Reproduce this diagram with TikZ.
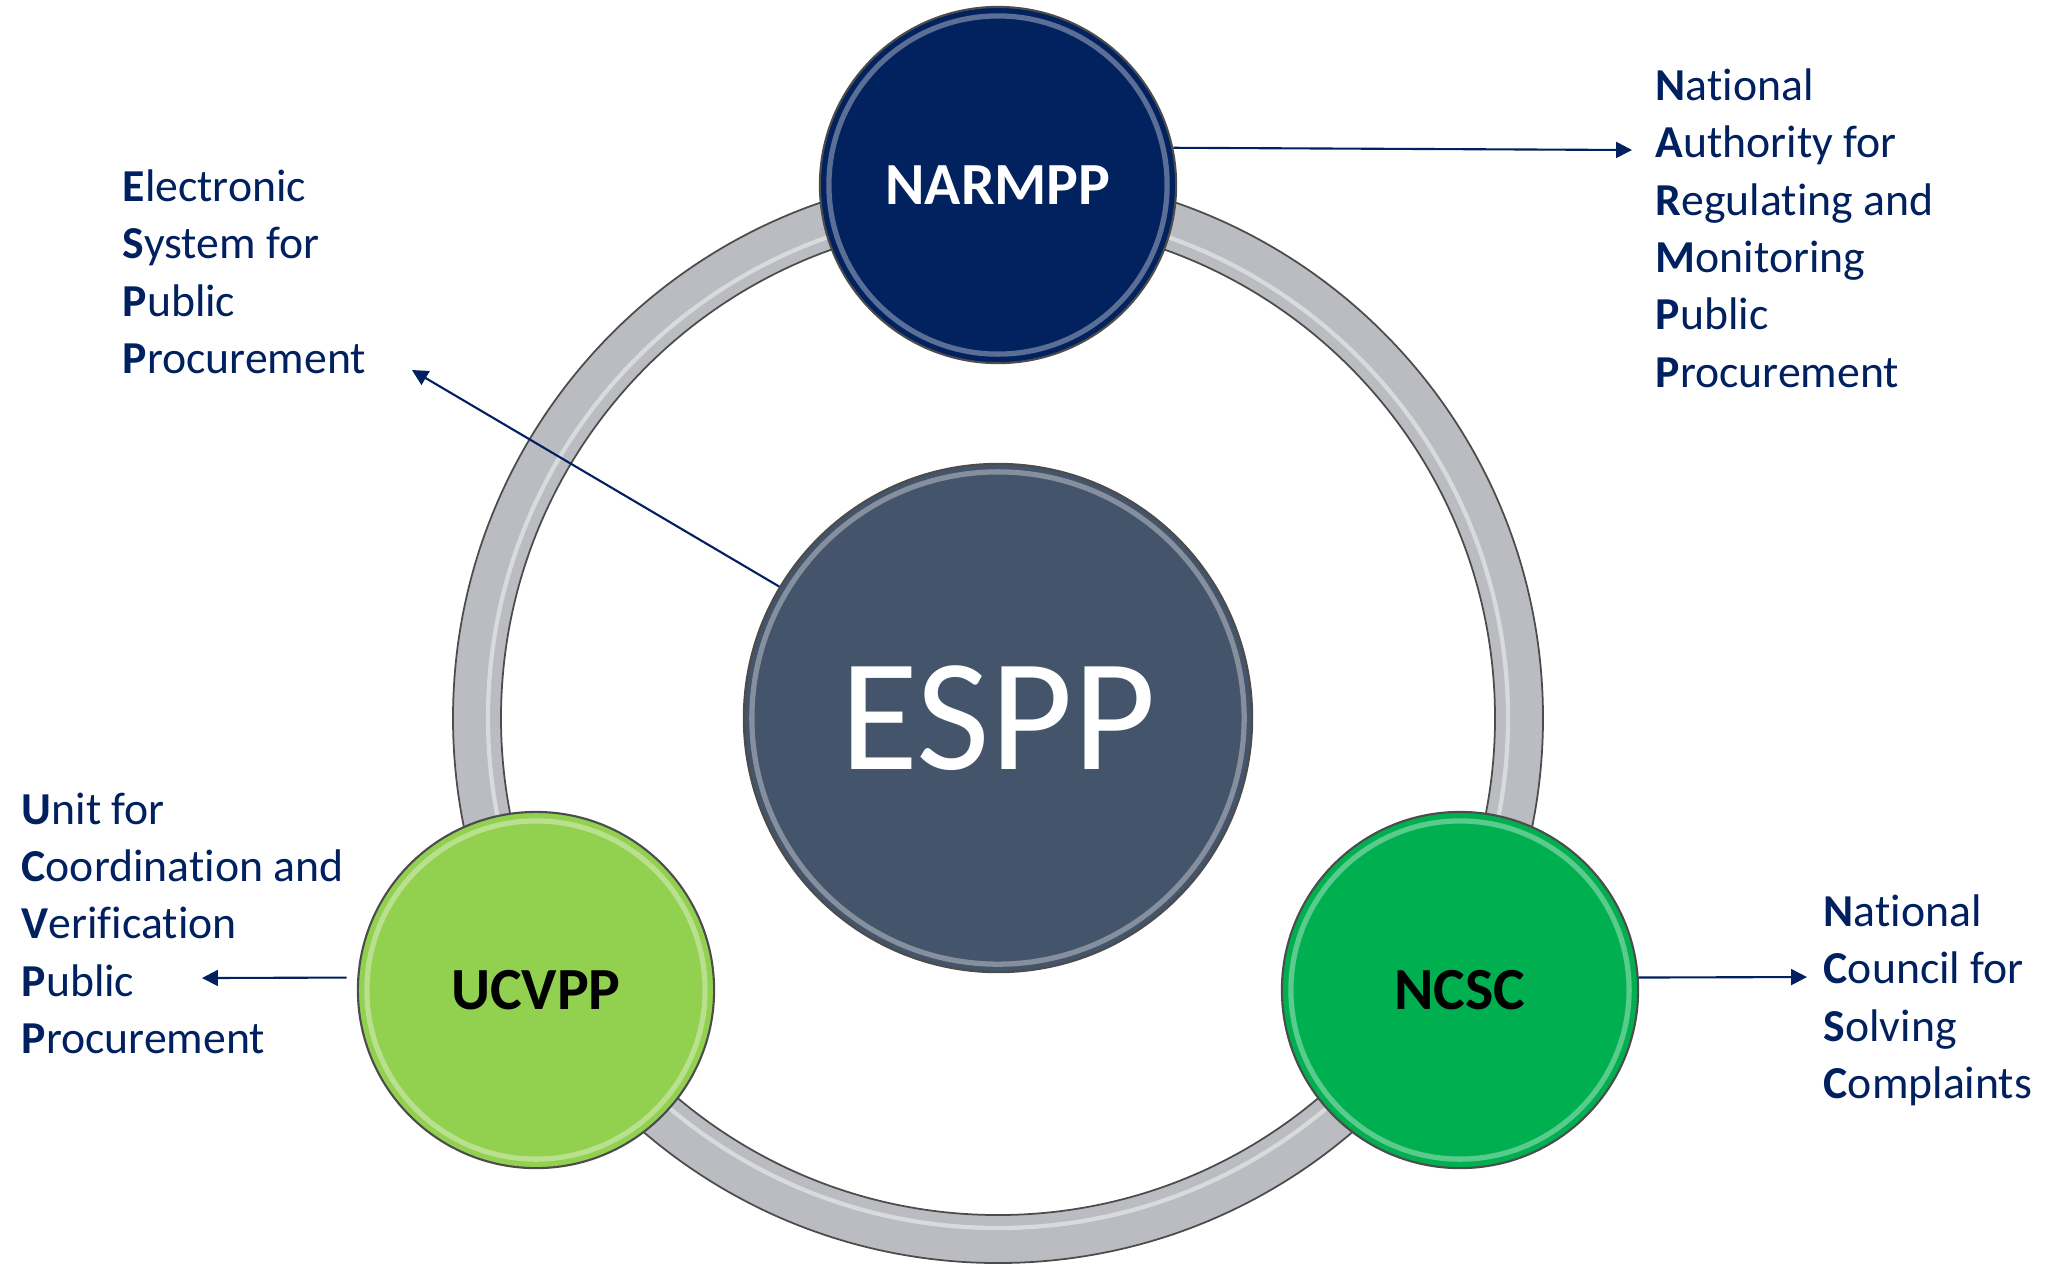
\documentclass[tikz,border=0pt]{standalone}
\usepackage{fontspec}
\setmainfont{Carlito}[Ligatures=NoCommon]
\usetikzlibrary{arrows.meta}

\definecolor{navytext}{RGB}{0,32,96}
\definecolor{esppfill}{RGB}{68,84,106}
\definecolor{narmppfill}{RGB}{2,33,95}
\definecolor{ucvppfill}{RGB}{146,208,80}
\definecolor{ncscfill}{RGB}{0,176,80}
\definecolor{ringgray}{RGB}{186,188,193}

\begin{document}
\begin{tikzpicture}[x=0.01cm, y=-0.01cm]
        \tikzstyle{every node}=[inner sep=0pt]
        \tikzstyle{hub}=[circle, draw=black!70, line width=0.6pt, minimum size=5.08cm,
            path picture={\draw[white, opacity=.35, line width=1.5pt] (path picture bounding box.center) circle[radius=2.46cm];}]
        \tikzstyle{member}=[circle, draw=black!70, line width=0.6pt, minimum size=3.56cm,
            font=\fontsize{17}{20}\selectfont\bfseries,
            path picture={\draw[white, opacity=.35, line width=1.5pt] (path picture bounding box.center) circle[radius=1.69cm];}]
        \tikzstyle{desc}=[anchor=north west, align=left, text=navytext, font=\fontsize{13}{16.3}\selectfont]
        \tikzstyle{conn}=[draw=navytext, line width=0.6pt, -{Triangle[length=4.5pt, width=4.5pt]}]

\useasboundingbox (0,0) rectangle (2061,1265);

% grey ring joining the three bodies
\path[fill=ringgray, draw=black!70, line width=0.5pt, even odd rule] (998,718) circle[radius=545] (998,718) circle[radius=497];
\draw[white, opacity=.45, line width=1.2pt] (998,718) circle[radius=510];

\node[hub, fill=esppfill, text=white, font=\fontsize{45.5}{50}\selectfont] (espp) at (998,718) {ESPP};
\node[member, fill=narmppfill, text=white] (narmpp) at (998,185) {NARMPP};
\node[member, fill=ucvppfill] (ucvpp) at (536,990) {UCVPP};
\node[member, fill=ncscfill] (ncsc) at (1460,990) {NCSC};

% full names
\node[desc] (esppdesc) at (122,169) {\textbf{E}lectronic\\\textbf{S}ystem for\\\textbf{P}ublic\\\textbf{P}rocurement};
\node[desc] (narmppdesc) at (1655,68) {\textbf{N}ational\\\textbf{A}uthority for\\\textbf{R}egulating and\\\textbf{M}onitoring\\\textbf{P}ublic\\\textbf{P}rocurement};
\node[desc] (ucvppdesc) at (21,792) {\textbf{U}nit for\\\textbf{C}oordination and\\\textbf{V}erification\\\textbf{P}ublic\\\textbf{P}rocurement};
\node[desc] (ncscdesc) at (1823,894) {\textbf{N}ational\\\textbf{C}ouncil for\\\textbf{S}olving\\\textbf{C}omplaints};

\coordinate (espptip) at (412,370);
\coordinate (narmpptip) at (1632,150);
\coordinate (ucvpptip) at (202,978);
\coordinate (ncsctip) at (1807,977);

\draw[conn] (espp.149) -- (espptip);
\draw[conn] (narmpp.12) -- (narmpptip);
\draw[conn, shorten <=3pt] (ucvpp.176) -- (ucvpptip);
\draw[conn] (ncsc.4) -- (ncsctip);

\end{tikzpicture}
\end{document}
